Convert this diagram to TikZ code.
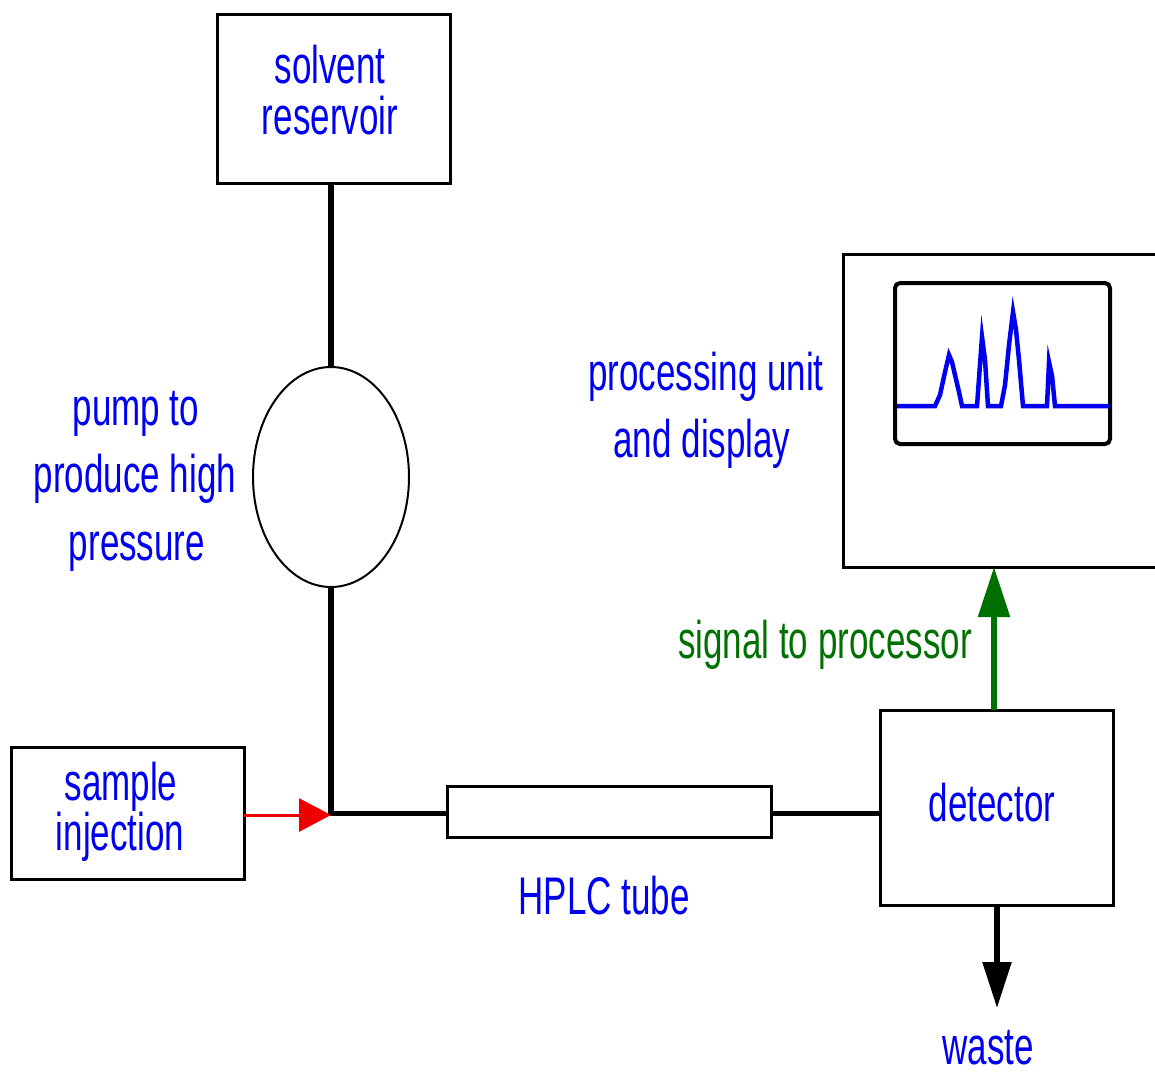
\documentclass[tikz,border=0pt]{standalone}
\usepackage{fontspec}
\setmainfont{Liberation Sans}
\newfontfamily\lab[FakeStretch=0.66]{Liberation Sans}
\usetikzlibrary{shapes.geometric,arrows.meta}
\definecolor{tblue}{RGB}{0,0,240}
\definecolor{tgreen}{RGB}{0,112,0}
\definecolor{tred}{RGB}{238,0,0}
\begin{document}
\begin{tikzpicture}[x=1pt,y=-1pt,
  box/.style={draw,line width=3pt,inner sep=0pt,outer sep=0pt},
  flow/.style={line width=5.5pt},
  lbl/.style={text=tblue,anchor=base,inner sep=0pt,font=\lab\fontsize{53}{60}\selectfont},
  glbl/.style={lbl,text=tgreen}]
\useasboundingbox (0,0) rectangle (1155,1077);
\fill[white] (0,0) rectangle (1155,1077);
% boxes
\node[box,minimum width=233pt,minimum height=169pt] (res) at (333.5,98.5) {};
\node[draw,ellipse,line width=2pt,inner sep=0pt,outer sep=0pt,minimum width=156pt,minimum height=220pt] (pump) at (331,477) {};
\node[box,minimum width=233pt,minimum height=132pt] (inj) at (127.5,813) {};
\node[box,minimum width=324pt,minimum height=51pt] (tube) at (609,811.5) {};
\node[box,minimum width=233pt,minimum height=195pt] (det) at (996.5,807.5) {};
% processing unit box (runs off the right edge)
\draw[line width=3pt] (1160,254) -- (843,254) -- (843,567) -- (1160,567);
\coordinate (procb) at (994,567);
\draw[line width=4pt,rounded corners=5pt] (895,283) rectangle (1110,444);
\draw[tblue,line width=4.5pt,line join=miter]
  (897,406) -- (935,406) -- (940,395) -- (945,372) -- (949,355) -- (952,362) -- (955,375) -- (959,392) -- (962,406)
  -- (977,406) -- (982,337) -- (985,360) -- (988,406)
  -- (1001,406) -- (1005,385) -- (1009,345) -- (1013,312) -- (1016,330) -- (1019,360) -- (1023,406)
  -- (1047,406) -- (1049,362) -- (1052,376) -- (1055,406)
  -- (1109,406);
% connectors
\coordinate (j) at (331,813.5);
\draw[flow] (res.south -| pump.north) -- (pump.north);
\draw[flow] (pump.south) -- (j) -- (j -| tube.west);
\draw[flow] (j -| tube.east) -- (j -| det.west);
\draw[tred,line width=3pt,-{Triangle[length=32pt,width=33pt]}] (inj.east |- 0,815) -- (j |- 0,815);
\draw[tgreen,line width=5.5pt,-{Triangle[length=50pt,width=31pt]}] (det.north -| procb) -- (procb);
\coordinate (w) at (997,1008);
\draw[line width=5.5pt,-{Triangle[length=46pt,width=28pt]}] (det.south -| w) -- (w);
% labels
\node[lbl] (t1) at (330,83) {solvent};
\node[lbl] (t2) at (330,134) {reservoir};
\node[lbl] (t3) at (136,425) {pump to};
\node[lbl] (t4) at (135,492) {produce high};
\node[lbl] (t5) at (137,560) {pressure};
\node[lbl] (t6) at (706,390) {processing unit};
\node[lbl] (t7) at (702,457) {and display};
\node[glbl] (t8) at (825,658) {signal to processor};
\node[lbl] (t9) at (121,800) {sample};
\node[lbl] (t10) at (120,850) {injection};
\node[lbl] (t11) at (992,821) {detector};
\node[lbl] (t12) at (604,914) {HPLC tube};
\node[lbl] (t13) at (988,1064) {waste};
\end{tikzpicture}
\end{document}
